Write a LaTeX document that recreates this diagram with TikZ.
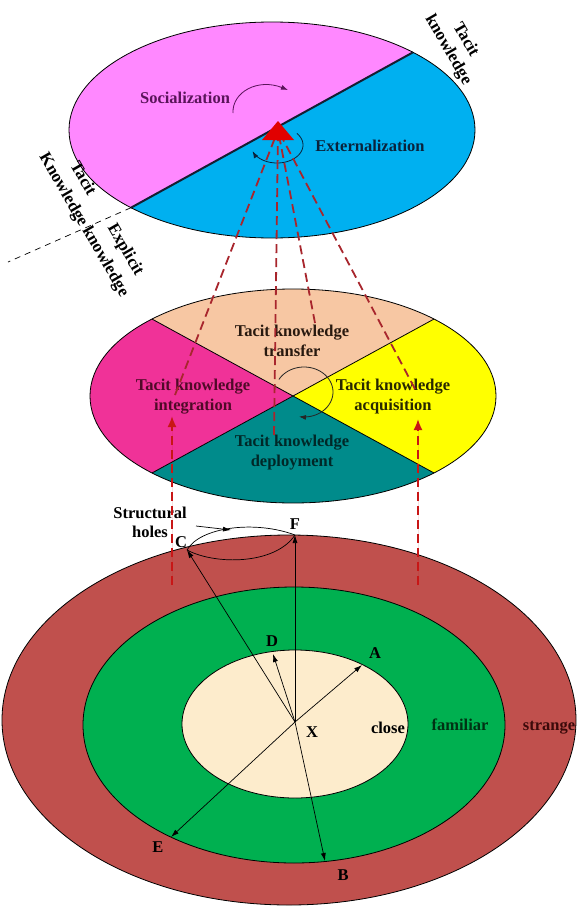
\documentclass[tikz,border=0pt]{standalone}
\usepackage{fontspec}
\setmainfont{Liberation Serif}
\usetikzlibrary{arrows.meta}
\definecolor{pinkT}{RGB}{255,136,255}
\definecolor{blueT}{RGB}{0,176,240}
\definecolor{peachM}{RGB}{247,199,163}
\definecolor{magM}{RGB}{240,50,152}
\definecolor{yelM}{RGB}{255,255,0}
\definecolor{tealM}{RGB}{0,139,139}
\definecolor{brownB}{RGB}{192,80,77}
\definecolor{greenB}{RGB}{0,176,80}
\definecolor{creamB}{RGB}{253,236,204}
\definecolor{redD}{RGB}{168,38,45}
\definecolor{redV}{RGB}{200,22,22}
\definecolor{redB}{RGB}{225,0,0}
\definecolor{divC}{RGB}{20,30,50}
\definecolor{socC}{RGB}{90,20,90}
\definecolor{extC}{RGB}{10,35,60}
\definecolor{trC}{RGB}{40,25,15}
\definecolor{inC}{RGB}{80,10,40}
\definecolor{acC}{RGB}{40,40,0}
\definecolor{deC}{RGB}{0,40,40}
\definecolor{faC}{RGB}{0,50,20}
\definecolor{stC}{RGB}{60,10,10}
\begin{document}
\begin{tikzpicture}[x=1pt,y=-1pt,
  font=\bfseries\fontsize{16.5}{20}\selectfont,
  outl/.style={draw=black,line width=0.8pt},
  lbl/.style={inner sep=0pt,align=center},
  rotlbl/.style={inner sep=0pt,rotate=-60,font=\bfseries\fontsize{17}{23}\selectfont},
  reddash/.style={draw=redD,line width=1.8pt,dash pattern=on 9pt off 5pt},
  redarr/.style={draw=redV,fill=redV,line width=1.8pt,dash pattern=on 9pt off 5pt,-{Latex[length=11pt,width=9pt]}},
  blkarr/.style={draw=black,line width=0.7pt,-{Latex[length=8pt,width=5pt]}}]
\useasboundingbox (0,0) rectangle (577,907);

% ---------- top ellipse ----------
\fill[pinkT] plot[domain=-226:-46,samples=90] ({272+203*cos(\x)},{130+108*sin(\x)}) -- cycle;
\fill[blueT] plot[domain=-46:134,samples=90] ({272+203*cos(\x)},{130+108*sin(\x)}) -- cycle;
\draw[outl] (272,130) ellipse [x radius=203, y radius=108];
\coordinate (tUR) at ({272+203*cos(-46)},{130+108*sin(-46)});
\coordinate (tLL) at ({272+203*cos(134)},{130+108*sin(134)});
\coordinate (dEnd) at (8,262);
\draw[divC,line width=2pt] (tUR) -- (tLL);
\draw[black,line width=0.7pt,dash pattern=on 6pt off 5pt] (tLL) -- (dEnd);

\node[rotlbl] (tk1a) at (467,39) {Tacit};
\node[rotlbl] (tk1b) at (448,50) {knowledge};
\node[rotlbl] (tk2a) at (84,178) {Tacit};
\node[rotlbl] (tk2b) at (63,190) {Knowledge};
\node[rotlbl] (eka) at (125,250) {Explicit};
\node[rotlbl] (ekb) at (105,262) {knowledge};

\node[lbl,text=socC] (soc) at (185,98) {Socialization};
\node[lbl,text=extC] (ext) at (370,146) {Externalization};
\draw[socC,line width=0.8pt,-{Latex[length=7pt,width=5pt]}] (233,113) .. controls (232,92) and (258,78) .. (288,90);
\draw[extC,line width=0.8pt,-{Latex[length=7pt,width=5pt]}] plot[domain=-40:160,samples=50] ({277+26*cos(\x)},{145+18*sin(\x)});

% ---------- middle ellipse ----------
\fill[peachM] (293,396) -- plot[domain=-134:-46,samples=60] ({293+203*cos(\x)},{396+107*sin(\x)}) -- cycle;
\fill[yelM] (293,396) -- plot[domain=-46:46,samples=60] ({293+203*cos(\x)},{396+107*sin(\x)}) -- cycle;
\fill[tealM] (293,396) -- plot[domain=46:134,samples=60] ({293+203*cos(\x)},{396+107*sin(\x)}) -- cycle;
\fill[magM] (293,396) -- plot[domain=134:226,samples=60] ({293+203*cos(\x)},{396+107*sin(\x)}) -- cycle;
\draw[outl] (293,396) ellipse [x radius=203, y radius=107];
\coordinate (m1) at ({293+203*cos(-134)},{396+107*sin(-134)});
\coordinate (m2) at ({293+203*cos(46)},{396+107*sin(46)});
\coordinate (m3) at ({293+203*cos(-46)},{396+107*sin(-46)});
\coordinate (m4) at ({293+203*cos(134)},{396+107*sin(134)});
\draw[outl] (m1) -- (m2);
\draw[outl] (m3) -- (m4);

\node[lbl,text=trC] (tr) at (292,341) {Tacit knowledge\\transfer};
\node[lbl,text=inC] (in) at (193,397) {Tacit knowledge\\integration};
\node[lbl,text=acC] (ac) at (393,397) {Tacit knowledge\\acquisition};
\node[lbl,text=deC] (de) at (292,453) {Tacit knowledge\\deployment};
\draw[black!85,line width=0.8pt,-{Latex[length=7pt,width=5pt]}] plot[domain=-150:100,samples=60] ({304+29*cos(\x)},{392+25*sin(\x)});

% ---------- bottom ellipses ----------
\draw[outl,fill=brownB] (289,720) ellipse [x radius=287, y radius=185];
\draw[outl,fill=greenB] (294,725) ellipse [x radius=211, y radius=138];
\draw[outl,fill=creamB] (295,724) ellipse [x radius=113, y radius=74];

\coordinate (X) at (295,722);
\coordinate (Ap) at (362,665);
\coordinate (Ep) at (171,837);
\coordinate (Dp) at (273,654);
\coordinate (Cp) at (187,550);
\coordinate (Fp) at (295,535);
\coordinate (Bp) at (325,861);
\draw[blkarr] (X) -- (Ap);
\draw[blkarr] (X) -- (Ep);
\draw[blkarr] (X) -- (Dp);
\draw[blkarr] (X) -- (Cp);
\draw[blkarr] (X) -- (Fp);
\draw[blkarr] (X) -- (Bp);

\node[lbl] (lA) at (375,653) {A};
\node[lbl] (lB) at (343,875) {B};
\node[lbl] (lC) at (181,542) {C};
\node[lbl] (lD) at (272,641) {D};
\node[lbl] (lE) at (158,847) {E};
\node[lbl] (lF) at (295,524) {F};
\node[lbl] (lX) at (312,732) {X};
\node[lbl] (cl) at (388,728) {close};
\node[lbl,text=faC] (fa) at (460,725) {familiar};
\node[lbl,text=stC] (st) at (549,728) {strange};

% structural holes
\node[lbl,font=\bfseries\fontsize{16.5}{19}\selectfont] (sh) at (150,522) {Structural\\holes};
\draw[black,line width=0.7pt] (Cp) .. controls (200,527) and (255,520) .. (Fp);
\draw[black,line width=0.7pt] (Cp) .. controls (215,565) and (275,565) .. (Fp);
\coordinate (shA) at (196,526);
\coordinate (shB) at (231,530);
\draw[blkarr] (shA) -- (shB);

% ---------- red dashed connectors ----------
\coordinate (P) at (278,130);
\coordinate (q1) at (175,395);
\coordinate (q2) at (274,435);
\coordinate (q3) at (315,323);
\coordinate (q4) at (415,389);
\draw[reddash] (q1) -- (P);
\draw[reddash] (q2) -- (P);
\draw[reddash] (q3) -- (P);
\draw[reddash] (q4) -- (P);
\fill[redB] (278,121) -- (294,140) -- (262,140) -- cycle;
\coordinate (r1s) at (172,585);
\coordinate (r1e) at (172,416);
\coordinate (r2s) at (418,585);
\coordinate (r2e) at (418,419);
\draw[redarr] (r1s) -- (r1e);
\draw[redarr] (r2s) -- (r2e);
\end{tikzpicture}
\end{document}
